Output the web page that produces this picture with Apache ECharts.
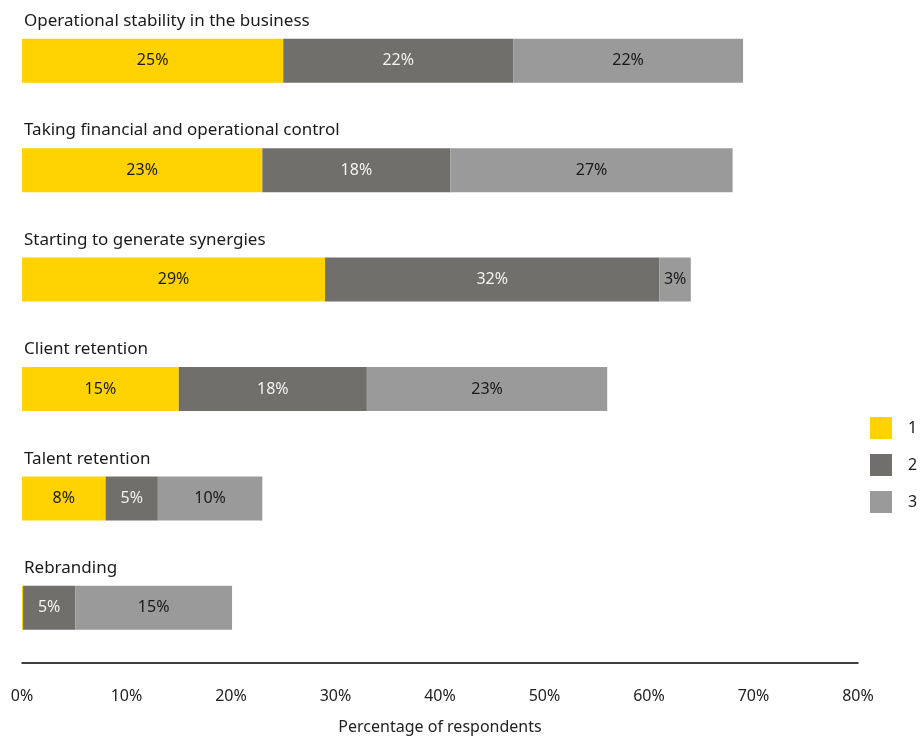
<!DOCTYPE html>
<html>
<head>
<meta charset="utf-8">
<script src="https://cdn.jsdelivr.net/npm/echarts@6/dist/echarts.min.js"></script>
<style>
  html, body { margin: 0; padding: 0; background: #fff; }
  #chart { width: 920px; height: 738px; }
</style>
</head>
<body>
<div id="chart"></div>
<script>
// Priorities after the deal, share of respondents ranking each item 1st, 2nd or 3rd
const categories = [
  'Operational stability in the business',
  'Taking financial and operational control',
  'Starting to generate synergies',
  'Client retention',
  'Talent retention',
  'Rebranding'
];
const rank1 = [25, 23, 29, 15, 8, 0.1];
const rank2 = [22, 18, 32, 18, 5, 5];
const rank3 = [22, 27, 3, 23, 10, 15];
const seriesNames = ['1', '2', '3'];
const xTicks = [0, 10, 20, 30, 40, 50, 60, 70, 80];

const FONT = 'Noto Sans';
const colors = ['#FFD200', '#706F6C', '#9A9A9A'];
const labelColors = ['#1a1a1a', '#f2f2f2', '#1a1a1a'];

const chart = echarts.init(document.getElementById('chart'));

function makeSeries(name, data, idx) {
  return {
    name: name,
    type: 'bar',
    stack: 'total',
    barWidth: 44,
    data: data,
    itemStyle: { color: colors[idx] },
    label: {
      show: true,
      position: 'inside',
      fontFamily: FONT,
      fontSize: 16,
      color: labelColors[idx],
      formatter: p => (p.value >= 1 ? p.value + '%' : '')
    },
    emphasis: { disabled: true }
  };
}

chart.setOption({
  animation: false,
  textStyle: { fontFamily: FONT },
  grid: {
    left: 22, right: 62, top: 6, bottom: 75.5,
    containLabel: false,
    outerBoundsMode: 'none'
  },
  legend: {
    orient: 'vertical',
    left: 865,
    top: 412,
    itemWidth: 22,
    itemHeight: 22,
    itemGap: 15,
    icon: 'rect',
    textStyle: { fontFamily: FONT, fontSize: 16, color: '#1a1a1a', padding: [0, 0, 0, 11] },
    data: seriesNames
  },
  xAxis: {
    type: 'value',
    min: xTicks[0],
    max: xTicks[xTicks.length - 1],
    interval: 10,
    axisLine: { show: true, lineStyle: { color: '#000', width: 1.5 } },
    axisTick: { show: false },
    splitLine: { show: false },
    axisLabel: {
      margin: 26,
      fontFamily: FONT,
      fontSize: 16,
      color: '#222',
      formatter: '{value}%'
    },
    name: 'Percentage of respondents',
    nameLocation: 'middle',
    nameGap: 57,
    nameTextStyle: { fontFamily: FONT, fontSize: 16, color: '#222' }
  },
  yAxis: {
    type: 'category',
    inverse: true,
    data: categories,
    axisLine: { show: false },
    axisTick: { show: false },
    splitLine: { show: false },
    axisLabel: {
      inside: true,
      margin: 2,
      align: 'left',
      verticalAlign: 'bottom',
      padding: [0, 0, 31, 0],
      fontFamily: FONT,
      fontSize: 17,
      color: '#1a1a1a'
    },
    z: 10
  },
  series: [
    makeSeries(seriesNames[0], rank1, 0),
    makeSeries(seriesNames[1], rank2, 1),
    makeSeries(seriesNames[2], rank3, 2)
  ]
});
</script>
</body>
</html>
